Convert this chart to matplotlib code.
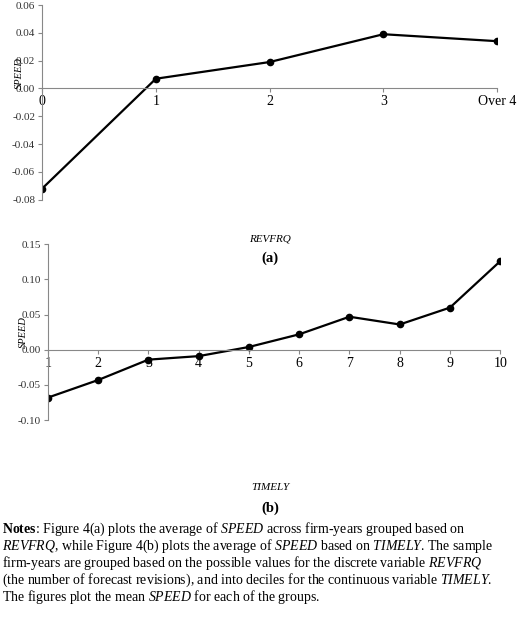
import matplotlib
matplotlib.use("Agg")
import matplotlib.pyplot as plt

plt.rcParams['font.family'] = ['Liberation Serif']
plt.rcParams['mathtext.fontset'] = 'custom'
plt.rcParams['mathtext.rm'] = 'Liberation Serif'
plt.rcParams['mathtext.it'] = 'Liberation Serif:italic'
plt.rcParams['mathtext.bf'] = 'Liberation Serif:bold'

cats_a = ["0", "1", "2", "3", "Over 4"]
speed_a = [-0.072, 0.007, 0.019, 0.039, 0.034]
cats_b = ["1", "2", "3", "4", "5", "6", "7", "8", "9", "10"]
speed_b = [-0.068, -0.043, -0.014, -0.009, 0.004, 0.022, 0.047, 0.036, 0.060, 0.126]

fig = plt.figure(figsize=(5.2, 6.28), dpi=100)

def style(ax, cats, vals, yticks, ylim):
    x = list(range(len(cats)))
    ax.plot(x, vals, color='black', lw=1.6, marker='o', ms=4.5)
    ax.set_xlim(0, len(cats) - 1)
    ax.set_ylim(*ylim)
    ax.set_yticks(yticks)
    ax.set_yticklabels([f"{t:.2f}" for t in yticks], fontsize=8, color='#333333')
    ax.set_xticks(x)
    ax.set_xticklabels(cats, fontsize=8, color='#333333')
    for s in ['top', 'right']:
        ax.spines[s].set_visible(False)
    ax.spines['bottom'].set_position(('data', 0))
    ax.spines['left'].set_color('#888888')
    ax.spines['bottom'].set_color('#888888')
    ax.tick_params(length=3, color='#888888', pad=2)

ax1 = fig.add_axes([0.081, 0.682, 0.875, 0.31])
style(ax1, cats_a, speed_a, [-0.08, -0.06, -0.04, -0.02, 0.0, 0.02, 0.04, 0.06], (-0.08, 0.06))
ax1.set_ylabel("SPEED", fontstyle='italic', fontsize=7.5, labelpad=2)
ax1.yaxis.set_label_coords(-0.04, 0.65)

ax2 = fig.add_axes([0.092, 0.331, 0.87, 0.28])
style(ax2, cats_b, speed_b, [-0.10, -0.05, 0.0, 0.05, 0.10, 0.15], (-0.10, 0.15))
ax2.set_ylabel("SPEED", fontstyle='italic', fontsize=7.5, labelpad=2)
ax2.yaxis.set_label_coords(-0.045, 0.5)

fig.text(0.52, 0.62, "REVFRQ", fontstyle='italic', fontsize=8, ha='center', va='center')
fig.text(0.52, 0.588, "(a)", fontweight='bold', fontsize=10.5, ha='center', va='center')
fig.text(0.52, 0.223, "TIMELY", fontstyle='italic', fontsize=8, ha='center', va='center')
fig.text(0.52, 0.191, "(b)", fontweight='bold', fontsize=10.5, ha='center', va='center')

lines = [
    r"$\mathbf{Notes}$: Figure 4(a) plots the average of $\mathit{SPEED}$ across firm-years grouped based on",
    r"$\mathit{REVFRQ}$, while Figure 4(b) plots the average of $\mathit{SPEED}$ based on $\mathit{TIMELY}$. The sample",
    r"firm-years are grouped based on the possible values for the discrete variable $\mathit{REVFRQ}$",
    r"(the number of forecast revisions), and into deciles for the continuous variable $\mathit{TIMELY}$.",
    r"The figures plot the mean $\mathit{SPEED}$ for each of the groups.",
]
for i, l in enumerate(lines):
    fig.text(0.003, 1 - (529 + 17 * i) / 628, l, fontsize=10, ha='left', va='center')

fig.savefig("out.png", dpi=100)
